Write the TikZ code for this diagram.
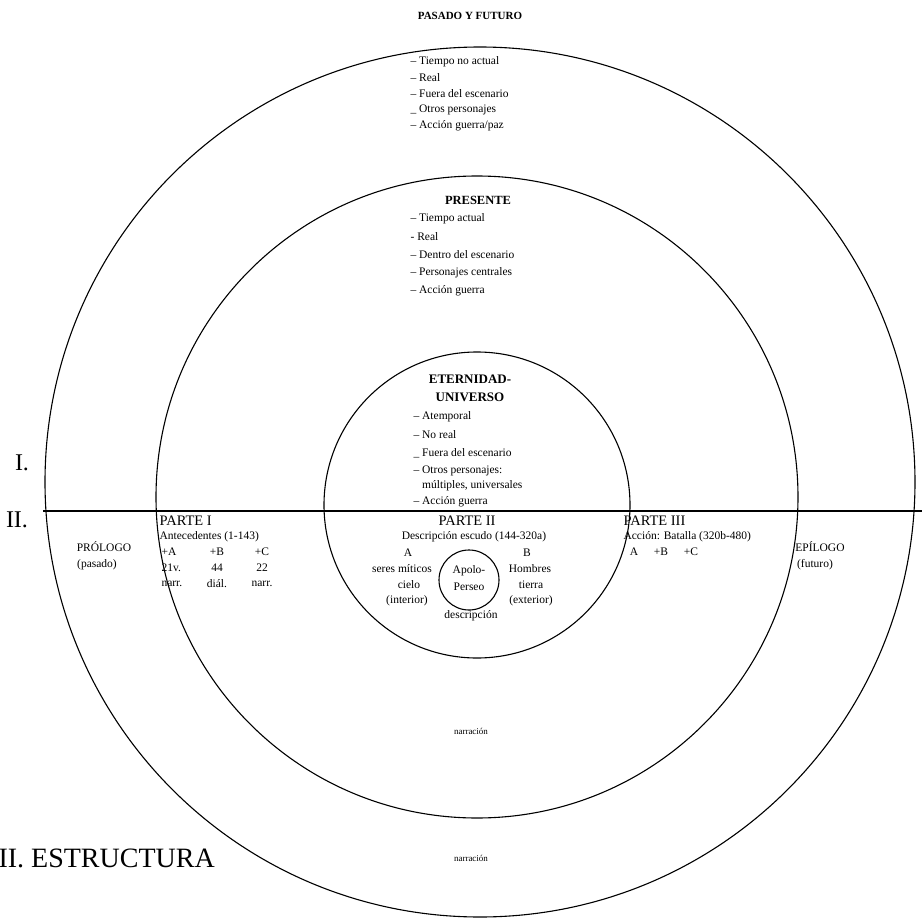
\documentclass[tikz,border=0pt]{standalone}
\usepackage{fontspec}
\setmainfont{Liberation Serif}
\begin{document}
\begin{tikzpicture}[x=1pt,y=-1pt,line width=1.1pt]
            \tikzstyle{ring}=[circle,draw=black,inner sep=0pt,outer sep=0pt]
            \tikzstyle{item}=[anchor=west,inner sep=0pt,font=\fontsize{11.5}{12}\selectfont]
            \tikzstyle{lbl}=[inner sep=0pt,font=\fontsize{11.5}{12}\selectfont]
            \tikzstyle{tiny}=[inner sep=0pt,font=\fontsize{9}{10}\selectfont]
            \tikzstyle{head}=[inner sep=0pt,font=\bfseries\fontsize{12.5}{13}\selectfont]
            \tikzstyle{part}=[anchor=west,inner sep=0pt,font=\fontsize{14.5}{15}\selectfont]
            \tikzstyle{big}=[inner sep=0pt,font=\fontsize{24}{26}\selectfont]
            \useasboundingbox (0,0) rectangle (922,918);

            % the four circles
            \node[ring,minimum size=870pt] (R-out) at (480,482) {};
            \node[ring,minimum size=642pt] (R-mid) at (477,497) {};
            \node[ring,minimum size=306pt] (R-in) at (477,505) {};
            \node[ring,minimum size=60pt] (R-core) at (469,580) {};

            \coordinate (L-a) at (43,511);
            \coordinate (L-b) at (922,511);
            \draw (L-a) -- (L-b);

            % upper half
            \node[head,font=\bfseries\fontsize{11}{12}\selectfont] (T-pf) at (470,16) {PASADO Y FUTURO};
            \foreach \n/\y/\t in {1/62/{– Tiempo no actual}, 2/78/{– Real}, 3/94/{– Fuera del escenario},
                                  4/110/{\_ Otros personajes}, 5/126/{– Acción guerra/paz}}
                    \node[item] (O-\n) at (410,\y) {\t};

            \node[head] (T-pr) at (478,200) {PRESENTE};
            \foreach \n/\y/\t in {1/219/{– Tiempo actual}, 2/237/{- Real}, 3/255/{– Dentro del escenario},
                                  4/273/{– Personajes centrales}, 5/291/{– Acción guerra}}
                    \node[item] (P-\n) at (410,\y) {\t};

            \node[head,font=\bfseries\fontsize{13}{14}\selectfont] (T-et) at (470,379) {ETERNIDAD-};
            \node[head,font=\bfseries\fontsize{13}{14}\selectfont] (T-un) at (470,397) {UNIVERSO};
            \foreach \n/\y/\t in {1/417/{– Atemporal}, 2/435/{– No real}, 3/453/{\_ Fuera del escenario},
                                  4/471/{– Otros personajes:}, 5/486/{\phantom{– }múltiples, universales}, 6/502/{– Acción guerra}}
                    \node[item] (E-\n) at (413,\y) {\t};

            \node[big] (T-one) at (22,463) {I.};
            \node[big] (T-two) at (17,520) {II.};
            \node[big,anchor=west,font=\fontsize{28}{30}\selectfont] (T-est) at (-2,858) {II.\ ESTRUCTURA};

            % lower half
            \node[lbl] (T-pro) at (104,547) {PRÓLOGO};
            \node[lbl] (T-pas) at (97,565) {(pasado)};
            \node[lbl] (T-epi) at (820,547) {EPÍLOGO};
            \node[lbl] (T-fut) at (815,565) {(futuro)};

            \node[part] (T-p1) at (159,521) {PARTE I};
            \node[lbl,anchor=west] (T-ant) at (159,537) {Antecedentes (1-143)};
            \foreach \n/\a/\b/\c in {1/+A/21v./narr.}
                {
                    \node[lbl,anchor=west] (S-\n) at (161,552) {\a};
                    \node[lbl,anchor=west] (V-\n) at (161,568) {\b};
                    \node[lbl,anchor=west] (N-\n) at (161,584) {\c};
                }
            \foreach \n/\x/\a/\b/\c in {2/217/+B/44/diál., 3/262/+C/22/narr.}
                {
                    \node[lbl] (S-\n) at (\x,552) {\a};
                    \node[lbl] (V-\n) at (\x,568) {\b};
                    \node[lbl] (N-\n) at (\x,584) {\c};
                }

            \node[part] (T-p2) at (438,521) {PARTE II};
            \node[lbl] (T-des) at (474,537) {Descripción escudo (144-320a)};
            \node[lbl] (T-A) at (408,553) {A};
            \node[lbl] (T-B) at (527,553) {B};
            \node[lbl] (T-ser) at (402,569) {seres míticos};
            \node[lbl] (T-cie) at (409,585) {cielo};
            \node[lbl] (T-int) at (407,601) {(interior)};
            \node[lbl] (T-hom) at (530,569) {Hombres};
            \node[lbl] (T-tie) at (531,585) {tierra};
            \node[lbl] (T-ext) at (531,601) {(exterior)};
            \node[lbl] (T-apo) at (469,571) {Apolo-};
            \node[lbl] (T-per) at (469,587) {Perseo};
            \node[lbl] (T-dsc) at (471,616) {descripción};

            \node[part] (T-p3) at (623,521) {PARTE III};
            \node[lbl,anchor=west] (T-acc) at (623,537) {Acción: Batalla (320b-480)};
            \foreach \n/\x/\a in {1/634/A, 2/661/+B, 3/691/+C}
                    \node[lbl] (C-\n) at (\x,552) {\a};

            \node[tiny] (T-na1) at (471,731) {narración};
            \node[tiny] (T-na2) at (471,858) {narración};
        \end{tikzpicture}
\end{document}
